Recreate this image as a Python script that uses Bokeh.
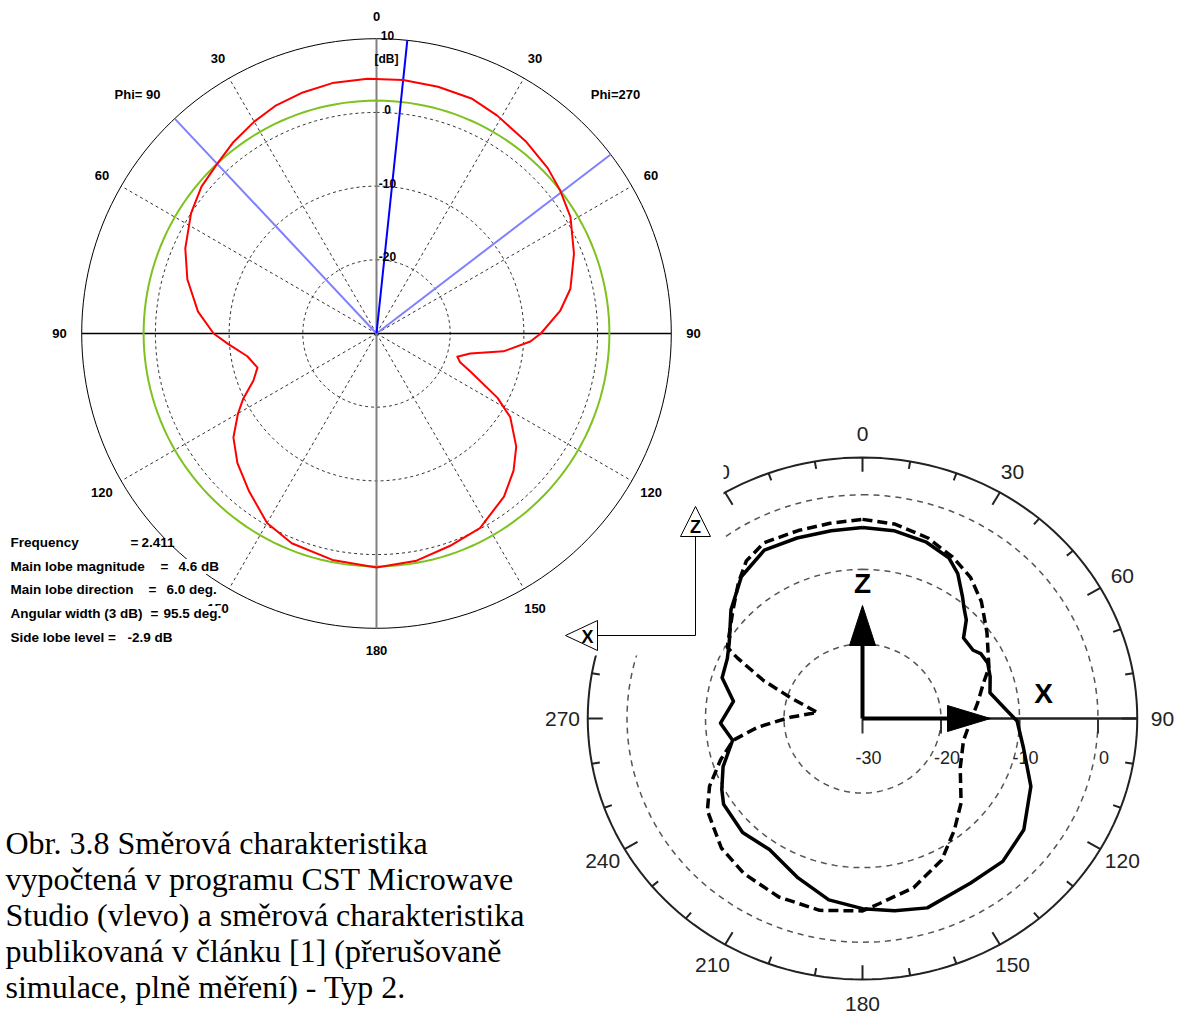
import math
from bokeh.plotting import figure
from bokeh.models import Range1d
from bokeh.embed import file_html
from bokeh.resources import INLINE
from bokeh.core.properties import value

# ---------------- data: CST computed pattern (left chart) ----------------
cst_theta = [-180, -169, -158, -150, -141, -133, -126, -120, -116, -111,
             -106, -100, -94, -90, -83, -74, -66, -57, -50, -43,
             -37, -30, -24, -17, -10, -2, 6, 14, 22, 29,
             38, 46, 52, 59, 68, 77, 83, 90, 93, 98,
             102, 106, 109, 112, 118, 122, 129, 135, 142, 152,
             161, 170, 180]
cst_db = [1.75, 1.3, 0.7, -0.3, -2.5, -4.2, -6.0, -8.3, -9.9, -12.1,
          -13.2, -12.2, -9.8, -7.9, -5.6, -3.3, -1.6, 0.0, 1.0, 1.6,
          2.4, 3.2, 3.8, 4.2, 4.5, 4.6, 4.6, 4.5, 4.4, 3.8,
          3.0, 2.3, 1.6, 0.7, -1.1, -3.0, -4.9, -7.7, -9.1, -12.6,
          -17.0, -18.6, -18.0, -16.3, -11.4, -8.6, -5.6, -3.7, -1.9, -0.1,
          0.5, 1.3, 1.75]
cst_main_dir = 6.0
cst_main_db = 4.6
cst_3db_level = 1.6
cst_hpbw_edges = [-43.2, 52.6]
cst_min_db = -30
cst_max_db = 10
cst_ring_db = [0, -10, -20]
cst_ring_txt = ["0", "-10", "-20"]
cst_spokes = [30, 60, 120, 150, -30, -60, -120, -150]
cst_angle_pos = [0, 30, 60, 90, 120, 150, 180, -30, -60, -90, -120, -150]
cst_angle_txt = ["0", "30", "60", "90", "120", "150", "180", "30", "60", "90", "120", "150"]
cst_phi_pos = [-45, 45]
cst_phi_txt = ["Phi= 90", "Phi=270"]
stat_names = ["Frequency", "Main lobe magnitude", "Main lobe direction",
              "Angular width (3 dB)", "Side lobe level ="]
stat_values = ["2.411", "4.6 dB", "6.0 deg.", "95.5 deg.", "-2.9 dB"]

# ---------------- data: published pattern (right chart) ----------------
meas_theta = [0, 9, 19, 27, 32, 38, 41, 45, 50, 57,
              60, 65, 71, 78, 87, 91, 101, 113, 126, 137,
              148, 162, 171, 180, 190, 201, 214, 225, 237, 242,
              250, 260, 268, 278, 287, 295, 301, 311, 321, 331,
              341, 351, 360]
meas_db = [-4.4, -4.5, -5.0, -5.8, -7.1, -9.3, -10.3, -11.3, -13.2, -13.2,
           -12.6, -12.4, -12.8, -13.4, -11.5, -10.3, -9.1, -6.7, -4.6, -3.8,
           -4.0, -3.3, -3.9, -4.5, -5.3, -7.1, -8.8, -8.4, -8.9, -9.7,
           -11.1, -13.2, -11.9, -13.4, -11.3, -11.0, -10.2, -7.8, -5.5, -4.2,
           -4.4, -4.5, -4.4]
sim_theta = [0, 9, 19, 28, 36, 44, 54, 67, 73, 82,
             91, 103, 118, 132, 142, 152, 164, 175, 180, 192,
             204, 216, 226, 238, 245, 253, 260, 265, 271, 278,
             287, 292, 297, 299, 311, 319, 325, 332, 342, 351,
             360]
sim_db = [-3.3, -3.6, -4.4, -5.5, -6.6, -8.2, -10.4, -12.5, -13.9, -15.2,
          -16.2, -16.8, -15.9, -13.1, -11.0, -8.5, -6.4, -5.1, -4.2, -3.7,
          -3.8, -4.3, -5.0, -6.7, -8.5, -11.1, -13.3, -16.6, -20.8, -24.2,
          -20.4, -16.4, -12.1, -10.3, -8.1, -5.9, -4.2, -3.3, -3.5, -3.5,
          -3.3]
paper_min_db = -30
paper_max_db = 5
paper_ring_db = [0, -10, -20]
paper_db_ticks = [-30, -20, -10, 0]
paper_db_txt = ["-30", "-20", "-10", "0"]
paper_angle_pos = [0, 30, 60, 90, 120, 150, 180, 210, 240, 270, 300, 330]
paper_angle_txt = [str(a) for a in paper_angle_pos]

caption_lines = ["Obr. 3.8 Směrová charakteristika",
                 "vypočtená v programu CST Microwave",
                 "Studio (vlevo) a směrová charakteristika",
                 "publikovaná v článku [1] (přerušovaně",
                 "simulace, plně měření) - Typ 2."]

# ---------------- layout constants ----------------
LCX, LCY, LPX = 376, 333, 7.37          # left chart centre / px per dB
RCX, RCY, RPX, RYS = 862, 718, 7.85, 0.95  # right chart centre / px per dB / y squash
SANS = value("Liberation Sans")
SERIF = value("Liberation Serif")


def lpt(th, db):
    r = (db - cst_min_db) * LPX
    a = math.radians(th)
    return LCX + r * math.sin(a), LCY - r * math.cos(a)


def lpx(th, r):
    a = math.radians(th)
    return LCX + r * math.sin(a), LCY - r * math.cos(a)


def rpt(th, db):
    r = (db - paper_min_db) * RPX
    a = math.radians(th)
    return RCX + r * math.sin(a), RCY - RYS * r * math.cos(a)


def rpx(th, r):
    a = math.radians(th)
    return RCX + r * math.sin(a), RCY - RYS * r * math.cos(a)


def curve(fn, thetas, dbs):
    pts = [fn(t, d) for t, d in zip(thetas, dbs)]
    return [p[0] for p in pts], [p[1] for p in pts]


p = figure(width=1195, height=1018, x_range=Range1d(0, 1195), y_range=Range1d(1018, 0),
           output_backend="svg", toolbar_location=None, min_border=0)
p.axis.visible = False
p.grid.visible = False
p.outline_line_color = None
p.background_fill_color = "white"
p.border_fill_color = "white"

full = list(range(0, 361, 2))

# ================= right chart (published) =================
xs, ys = [], []
for d in paper_ring_db:
    cx, cy = curve(rpt, full, [d] * len(full))
    xs.append(cx); ys.append(cy)
p.multi_line(xs, ys, line_color="#555555", line_width=1.5, line_dash="6 5")
ox, oy = curve(rpt, full, [paper_max_db] * len(full))
p.line(ox, oy, line_color="#222222", line_width=2)

R_OUT = (paper_max_db - paper_min_db) * RPX
txs, tys = [], []
for t in range(0, 360, 10):
    ln = 15 if t % 30 == 0 else 8
    a = rpx(t, R_OUT); b = rpx(t, R_OUT - ln)
    txs.append([a[0], b[0]]); tys.append([a[1], b[1]])
p.multi_line(txs, tys, line_color="#222222", line_width=2)

ax0 = rpt(90, paper_min_db); ax1 = rpt(90, paper_max_db)
p.line([ax0[0], ax1[0]], [ax0[1], ax1[1]], line_color="#222222", line_width=2.5)
dtx, dty, lx, ly = [], [], [], []
for d in paper_db_ticks:
    q = rpt(90, d)
    dtx.append([q[0], q[0]]); dty.append([q[1], q[1] + 15])
    lx.append(q[0] + 6); ly.append(q[1] + 39)
p.multi_line(dtx, dty, line_color="#333333", line_width=2)
p.text(lx, ly, text=paper_db_txt, text_font=SANS, text_font_size="18px",
       text_color="#222222", text_align="center", text_baseline="middle")

alx, aly = [], []
for t in paper_angle_pos:
    q = rpx(t, 300)
    alx.append(q[0]); aly.append(q[1])
p.text(alx, aly, text=paper_angle_txt, text_font=SANS, text_font_size="21px",
       text_color="#222222", text_align="center", text_baseline="middle")

sx, sy = curve(rpt, sim_theta, sim_db)
p.line(sx, sy, line_color="black", line_width=3.5, line_dash="10 5", line_join="round")
mx, my = curve(rpt, meas_theta, meas_db)
p.line(mx, my, line_color="black", line_width=3.5, line_join="round")

# coordinate arrows
p.line([RCX, RCX], [RCY, RCY - 73], line_color="black", line_width=4)
p.patch([RCX - 13, RCX + 13, RCX], [RCY - 73, RCY - 73, RCY - 113], color="black")
p.line([RCX, RCX + 86], [RCY, RCY], line_color="black", line_width=4)
p.patch([RCX + 85, RCX + 85, RCX + 128], [RCY - 13, RCY + 13, RCY], color="black")
p.text([RCX, RCX + 181], [RCY - 135, RCY - 25], text=["Z", "X"], text_font=SANS,
       text_font_style="bold", text_font_size="28px", text_color="black",
       text_align="center", text_baseline="middle")

# ================= left image background covers the right one =================
p.quad(left=[0], right=[723], top=[0], bottom=[655], fill_color="white", line_color=None)

# ================= left chart (CST) =================
xs, ys = [], []
for d in cst_ring_db:
    cx, cy = curve(lpt, full, [d] * len(full))
    xs.append(cx); ys.append(cy)
sp_x, sp_y = [], []
for t in cst_spokes:
    a = lpt(t, cst_min_db); b = lpt(t, cst_max_db)
    sp_x.append([a[0], b[0]]); sp_y.append([a[1], b[1]])
p.multi_line(xs + sp_x, ys + sp_y, line_color="#333333", line_width=1, line_dash="3 3")

ox, oy = curve(lpt, full, [cst_max_db] * len(full))
p.line(ox, oy, line_color="black", line_width=1)
h0 = lpt(-90, cst_max_db); h1 = lpt(90, cst_max_db)
p.line([h0[0], h1[0]], [h0[1], h1[1]], line_color="black", line_width=1.5)
v0 = lpt(0, cst_max_db); v1 = lpt(180, cst_max_db)
p.line([v0[0], v1[0]], [v0[1], v1[1]], line_color="#808080", line_width=2)

gx, gy = curve(lpt, full, [cst_3db_level] * len(full))
p.line(gx, gy, line_color="#7dc21e", line_width=2)

for t in cst_hpbw_edges:
    a = lpt(t, cst_min_db); b = lpt(t, cst_max_db)
    p.line([a[0], b[0]], [a[1], b[1]], line_color="#8080ff", line_width=2)
a = lpt(cst_main_dir, cst_min_db); b = lpt(cst_main_dir, cst_max_db)
p.line([a[0], b[0]], [a[1], b[1]], line_color="#0000ff", line_width=2)

cx, cy = curve(lpt, cst_theta, cst_db)
p.line(cx, cy, line_color="#ff0000", line_width=2, line_join="round")

# dB labels
dlx, dly = [], []
for d in [cst_max_db] + cst_ring_db:
    q = lpt(0, d)
    dlx.append(q[0] + 11); dly.append(q[1] - 3)
p.text(dlx + [LCX + 10], dly + [58], text=[str(cst_max_db)] + cst_ring_txt + ["[dB]"],
       text_font=SANS, text_font_style="bold", text_font_size="12px",
       text_color="black", text_align="center", text_baseline="middle")

# angle labels
alx, aly = [], []
for t in cst_angle_pos:
    q = lpx(t, 317)
    alx.append(q[0]); aly.append(q[1])
for t in cst_phi_pos:
    q = lpx(t, 338)
    alx.append(q[0]); aly.append(q[1])
p.text(alx, aly, text=cst_angle_txt + cst_phi_txt, text_font=SANS, text_font_style="bold",
       text_font_size="13px", text_color="black", text_align="center", text_baseline="middle")

# statistics block
stat_y = [542, 566, 589, 613, 637]
eq_x = [130, 160, 148, 150]
val_x = [141, 178, 166, 163, 127]
p.text([10] * 5, stat_y, text=stat_names, text_font=SANS, text_font_style="bold",
       text_font_size="13.5px", text_color="black", text_align="left", text_baseline="middle")
p.text(eq_x, stat_y[:4], text=["="] * 4, text_font=SANS, text_font_style="bold",
       text_font_size="13.5px", text_color="black", text_align="left", text_baseline="middle")
p.text(val_x, stat_y, text=stat_values, text_font=SANS, text_font_style="bold",
       text_font_size="13.5px", text_color="black", text_align="left", text_baseline="middle",
       background_fill_color="white")

# axis orientation icon (Z up, X left)
p.line([695, 695, 597], [536, 635, 635], line_color="black", line_width=1)
p.patch([680, 710, 695], [536, 536, 506], fill_color="white", line_color="black", line_width=1)
p.patch([597, 597, 565], [620, 650, 635], fill_color="white", line_color="black", line_width=1)
p.text([695, 587], [526, 636], text=["Z", "X"], text_font=SANS, text_font_style="bold",
       text_font_size="18px", text_color="black", text_align="center", text_baseline="middle")

# ================= caption =================
p.text([5] * len(caption_lines), [842 + 36 * i for i in range(len(caption_lines))],
       text=caption_lines, text_font=SERIF, text_font_size="32px", text_color="black",
       text_align="left", text_baseline="middle")

open("out.html", "w").write(file_html(p, INLINE))
